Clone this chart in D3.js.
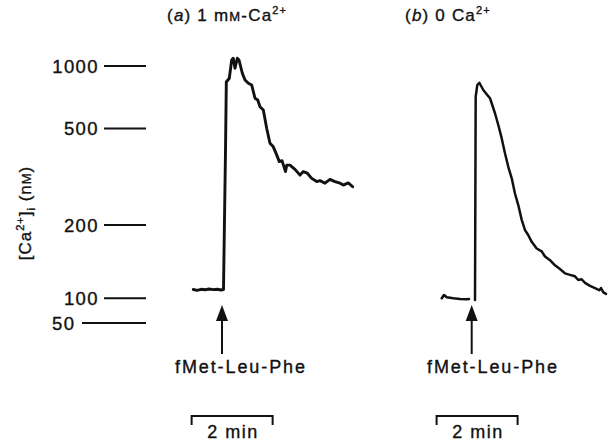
<!DOCTYPE html>
<html><head><meta charset="utf-8">
<script src="https://cdn.jsdelivr.net/npm/d3@7"></script>
<style>
body{margin:0;background:#fff}
svg{display:block}
text{font-family:"Liberation Sans",Arial,Helvetica,sans-serif;fill:#111;stroke:#111;stroke-width:0.35px}
</style>
</head><body><svg id="c" width="611" height="441"></svg>
<script>
// ---- data ----
const yTickValues = [50, 100, 200, 500, 1000];
const yTickLabels = ["50", "100", "200", "500", "1000"];
const stimulusLabel = "fMet-Leu-Phe";
const scaleBarLabel = "2 min";
const scaleBarSeconds = 120;

// Panel (a): 1 mM Ca2+ ; time in s relative to fMet-Leu-Phe addition, [Ca2+]i in nM
const timeA = [-42.5,-37,-31,-25,-19,-13,-7,-1.5,2.2,5.2,6.4,10.8,14.4,16.7,19.3,22.7,25.2,30.1,34.1,39,44,48.9,52.9,56.3,61.2,66.2,71.1,76,81,84.9,88.9,94.1,95.9,100.7,108.1,115.6,120.4,126.4,132.9,140.3,145.2,152.6,160,167.4,174.8,179.7,187.1,193.6];
const caA   = [112,110.9,112.3,111.6,112.7,111.9,112.4,111.3,112,433,872,902,1048,1062,982,1062,1048,942,888,862,848,742,728,674,648,502,454,443,418,397,400,366,386,386,373,355,366,361,345,335,338,330,342,335,330,324,331,319];

// Panel (b): 0 Ca2+
const timeBBase = [-44.4,-41,-37,-27.3,-17.3,-7.4,-4];
const caBBase   = [100,104.5,101.4,100,98.6,98,98.6];
const timeBResp = [4.9,5.9,8.3,11.3,17.2,23.1,27.1,29.6,34.5,39.4,44.4,49.3,54.2,59.3,64.1,69,74.1,79,83.9,88.9,96.3,103.7,108.6,116,123.4,130.8,138.2,145.6,153,157.8,162.8,167.9,175.3,182.7,189,191.6,195,199];
const caBResp   = [96.6,754,848,866,808,768,742,702,622,528,470,423,381,345,298,262,216,193,186,177,168,164,157,152,145,140,134,132,130,125,126,121,117,114,111,114,108,106];

// ---- layout ----
const svg = d3.select("#c");
const y = d3.scaleLinear().domain(yTickValues).range([323, 298.3, 225, 128.5, 66]);
const xA = d3.scaleLinear().domain([0, scaleBarSeconds]).range([222, 303]);
const xB = d3.scaleLinear().domain([0, scaleBarSeconds]).range([471.7, 552.7]);

// y ticks
const tick = svg.append("g");
yTickValues.forEach((v, i) => {
  const small = v === 50;
  tick.append("line")
    .attr("x1", small ? 82 : 104).attr("x2", 146)
    .attr("y1", y(v)).attr("y2", y(v))
    .attr("stroke", "#111").attr("stroke-width", 2);
  tick.append("text")
    .attr("x", small ? 52 : 99).attr("y", y(v) + 6.5)
    .attr("text-anchor", small ? "start" : "end")
    .attr("font-size", 18.5).attr("letter-spacing", 1.4)
    .text(yTickLabels[i]);
});

// y label
const yl = svg.append("text")
  .attr("transform", "translate(31,213) rotate(-90)")
  .attr("text-anchor", "middle").attr("font-size", 17).attr("letter-spacing", 1);
yl.append("tspan").text("[Ca");
yl.append("tspan").attr("font-size", 11).attr("dy", -7).text("2+");
yl.append("tspan").attr("dy", 7).text("]");
yl.append("tspan").attr("font-size", 11).attr("dy", 4).text("i");
yl.append("tspan").attr("dy", -4).text(" (n");
yl.append("tspan").attr("font-size", 13).text("M");
yl.append("tspan").text(")");

// titles
function title(x, letter, rest, smallM) {
  const t = svg.append("text").attr("x", x).attr("y", 21)
    .attr("font-size", 17).attr("letter-spacing", 1.2);
  t.append("tspan").text("(");
  t.append("tspan").attr("font-style", "italic").text(letter);
  t.append("tspan").text(") " + rest);
  if (smallM) {
    t.append("tspan").attr("font-size", 13).text("M");
    t.append("tspan").text("-Ca");
  }
  t.append("tspan").attr("font-size", 11).attr("dy", -7).text("2+");
}
title(167, "a", "1 m", true);
title(405, "b", "0 Ca", false);

// traces
function trace(xs, ts, vs, w) {
  const pts = ts.map((t, i) => [xs(t), y(vs[i])]);
  svg.append("path").datum(pts)
    .attr("d", d3.line())
    .attr("fill", "none").attr("stroke", "#111")
    .attr("stroke-width", w).attr("stroke-linejoin", "round").attr("stroke-linecap", "round");
}
trace(xA, timeA, caA, 2.9);
trace(xB, timeBBase, caBBase, 2.6);
trace(xB, timeBResp, caBResp, 2.5);

// arrows + labels + scale bars
function annot(xs, labelX, barStart) {
  const x0 = xs(0);
  svg.append("line").attr("x1", x0).attr("x2", x0).attr("y1", 318).attr("y2", 354)
    .attr("stroke", "#111").attr("stroke-width", 2);
  svg.append("path")
    .attr("d", `M${x0},305 L${x0 - 6},321 L${x0 + 6},321 Z`).attr("fill", "#111");
  svg.append("text").attr("x", labelX).attr("y", 373)
    .attr("font-size", 18).attr("letter-spacing", 1.9).text(stimulusLabel);
  const b0 = xs(barStart), b1 = xs(barStart + scaleBarSeconds);
  svg.append("path")
    .attr("d", `M${b0},425 L${b0},416 L${b1},416 L${b1},425`)
    .attr("fill", "none").attr("stroke", "#111").attr("stroke-width", 2);
  svg.append("text").attr("x", (b0 + b1) / 2 + 1).attr("y", 438)
    .attr("text-anchor", "middle").attr("font-size", 18).attr("letter-spacing", 1.5)
    .text(scaleBarLabel);
}
annot(xA, 175, -45);
annot(xB, 427, -52);
</script>
</body></html>
